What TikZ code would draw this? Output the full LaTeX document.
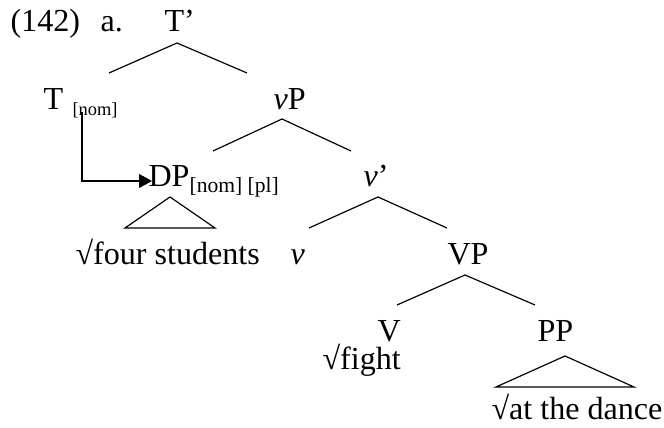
\documentclass[tikz,border=0pt]{standalone}
\usepackage{fontspec}
\setmainfont{Liberation Serif}
\usetikzlibrary{arrows.meta,calc}
\newcommand{\fsub}[2][7pt]{\raisebox{-2pt}{\fontsize{#1}{8pt}\selectfont #2}}
\tikzset{
  cat/.style={anchor=base west,inner sep=0pt,font=\fontsize{12.2pt}{14pt}\selectfont},
  br/.style={-,draw=black,line width=0.45pt},
  ag/.style={-{Triangle[length=4.9pt,width=5.2pt]},draw=black,line width=0.6pt}
}
\begin{document}
\begin{tikzpicture}[x=0.38pt,y=-0.38pt]
\useasboundingbox (0,0) rectangle (664,428);
% labels of the tree
\node[cat](ex) at (10,32){(142)};
\node[cat](lab) at (100,32){a.};
\node[cat](tbar) at (164,32){T’};
\node[cat](tnom) at (43,110){T\hspace{3.6pt}\fsub{[nom]}};
\node[cat](vp) at (273,110){\textit{v}P};
\node[cat](dp) at (148,187){DP\fsub[8.2pt]{[nom] [pl]}};
\node[cat](vbar) at (363,187){\textit{v}’};
\node[cat](dpw) at (75,265){√four students};
\node[cat](vsm) at (290,265){\textit{v}};
\node[cat](vpp) at (447,265){VP};
\node[cat](vv) at (377,342){V};
\node[cat](pp) at (537,342){PP};
\node[cat](fight) at (322,370){√fight};
\node[cat](dance) at (491,420){√at the dance};
% branches
\draw[br] ($(tnom.base west)+(66,-37)$) -- ($(tbar.base west)+(13,11)$) -- ($(vp.base west)+(-26,-37)$);
\draw[br] ($(dp.base west)+(65,-36)$) -- ($(vp.base west)+(9,9)$) -- ($(vbar.base west)+(-12,-36)$);
\draw[br] ($(vsm.base west)+(19,-37)$) -- ($(vbar.base west)+(15,10)$) -- ($(vpp.base west)+(0,-37)$);
\draw[br] ($(vv.base west)+(20,-37)$) -- ($(vpp.base west)+(18,10)$) -- ($(pp.base west)+(-2,-37)$);
% triangles
\draw[br] ($(dp.base west)+(22,10)$) -- ($(dpw.base west)+(50,-37)$) -- ($(dpw.base west)+(140,-37)$) -- cycle;
\draw[br] ($(pp.base west)+(28,14)$) -- ($(dance.base west)+(5,-33)$) -- ($(dance.base west)+(143,-33)$) -- cycle;
% agreement arrow
\draw[ag] ($(tnom.base west)+(39,2)$) |- ($(dp.base west)+(4,-6)$);
\end{tikzpicture}
\end{document}
